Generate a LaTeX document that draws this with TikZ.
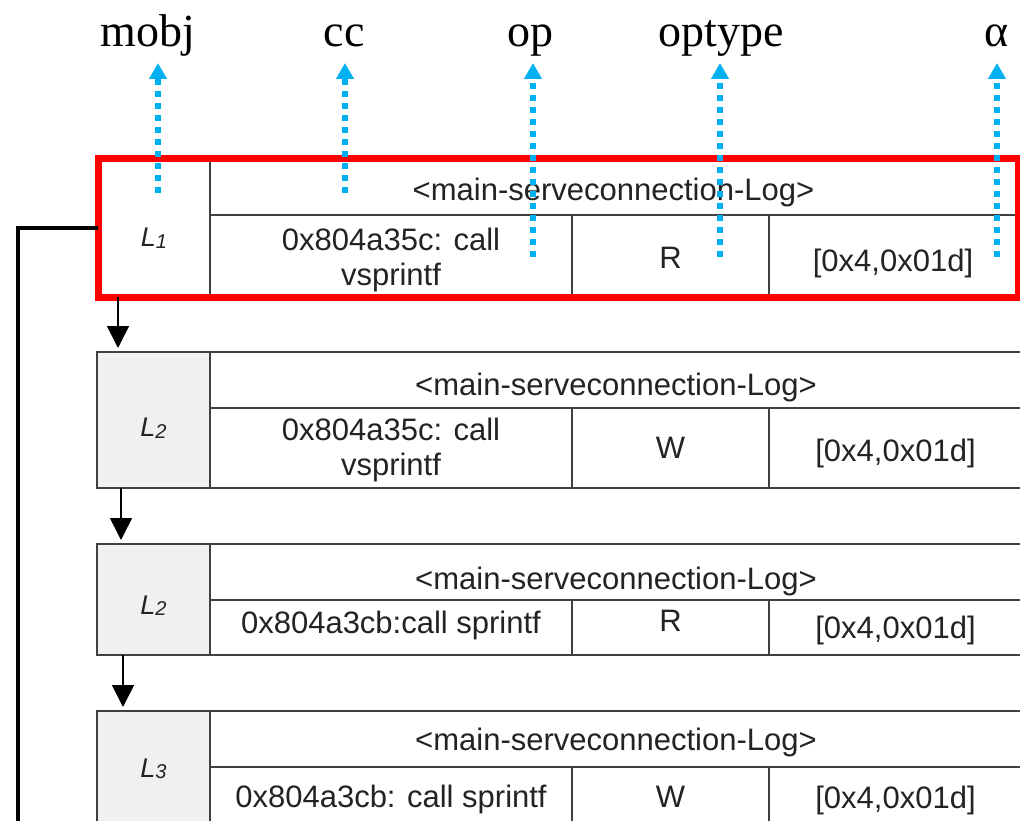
\documentclass[tikz,border=0pt]{standalone}
\usepackage{fontspec}
\setmainfont{Liberation Sans}
\newfontfamily\serifface{Liberation Serif}
\usetikzlibrary{arrows.meta,calc}
\definecolor{skyb}{RGB}{0,176,240}
\definecolor{selred}{RGB}{255,0,0}
\definecolor{gridc}{RGB}{64,64,64}
\definecolor{lgray}{RGB}{240,240,240}
\definecolor{txt}{RGB}{35,35,35}
% \mkcell[opts]{name}{x1}{y1}{x2}{y2}{text}
\newcommand\mkcell[6][]{%
  \node[cell,#1,minimum width={#5-#3},minimum height={#6-#4}] (#2) at ({(#3+#5)/2},{(#4+#6)/2})}
\newcommand\Lab[1]{{\fontsize{27}{27}\selectfont\itshape L\raisebox{-1.5pt}{\fontsize{20}{20}\selectfont #1}}}
\newcommand\sh[2]{\raisebox{-#1pt}[\height][\depth]{#2}}
\newcommand\two[2]{\begin{tabular}{@{}c@{}}#1\\#2\end{tabular}}
\begin{document}
\begin{tikzpicture}[x=1pt,y=-1pt,
  cell/.style={draw=gridc, line width=1.8pt, inner sep=0pt, outer sep=0pt,
    font=\fontsize{31}{35}\selectfont, text=txt, align=center},
  lcell/.style={fill=lgray},
  toplab/.style={font=\serifface\fontsize{46}{46}\selectfont, anchor=base, inner sep=0pt},
  bluearr/.style={draw=skyb, line width=6pt, dash pattern=on 6pt off 6pt,
    -{Triangle[width=17pt,length=16pt]}},
  flowarr/.style={draw=black, line width=1.6pt, -{Triangle[width=22pt,length=22pt]}, shorten >=4pt},
  selbox/.style={draw=selred, line width=7pt, inner sep=0pt, outer sep=0pt},
  trunk/.style={draw=black, line width=3.5pt}]
\useasboundingbox (0,0) rectangle (1020,821);
\clip (0,0) rectangle (1020,821);
\fill[white] (0,0) rectangle (1020,821);

% ---- table 1 ----
\mkcell{T1L}{98}{159}{210}{297}{\sh{10}{\Lab{1}}};
\mkcell{T1H}{210}{159}{1017}{215}{\sh{5}{<main-serveconnection-Log>}};
\mkcell{T1C}{210}{215}{572}{297}{\sh{4.5}{\two{0x804a35c: call}{vsprintf}}};
\mkcell{T1O}{572}{215}{769}{297}{\sh{2}{R}};
\mkcell{T1A}{769}{215}{1017}{297}{\sh{7}{[0x4,0x01d]}};
\node[selbox, minimum width=920, minimum height=138] (sel) at (558,228) {};

% ---- table 2 ----
\mkcell[lcell]{T2L}{97}{352}{210}{488}{\sh{8}{\Lab{2}}};
\mkcell{T2H}{210}{352}{1022}{408}{\sh{7}{<main-serveconnection-Log>}};
\mkcell{T2C}{210}{408}{572}{488}{\sh{2.5}{\two{0x804a35c: call}{vsprintf}}};
\mkcell{T2O}{572}{408}{769}{488}{W};
\mkcell{T2A}{769}{408}{1022}{488}{\sh{5}{[0x4,0x01d]}};

% ---- table 3 ----
\mkcell[lcell]{T3L}{97}{544}{210}{655}{\sh{6}{\Lab{2}}};
\mkcell{T3H}{210}{544}{1022}{600}{\sh{9}{<main-serveconnection-Log>}};
\mkcell{T3C}{210}{600}{572}{655}{\sh{-2.5}{0x804a3cb:call sprintf}};
\mkcell{T3O}{572}{600}{769}{655}{\sh{-6.5}{R}};
\mkcell{T3A}{769}{600}{1022}{655}{\sh{2.5}{[0x4,0x01d]}};

% ---- table 4 ----
\mkcell[lcell]{T4L}{97}{711}{210}{825}{\sh{1}{\Lab{3}}};
\mkcell{T4H}{210}{711}{1022}{767}{\sh{3}{<main-serveconnection-Log>}};
\mkcell{T4C}{210}{767}{572}{825}{\sh{3}{0x804a3cb: call sprintf}};
\mkcell{T4O}{572}{767}{769}{825}{\sh{1}{W}};
\mkcell{T4A}{769}{767}{1022}{825}{\sh{4}{[0x4,0x01d]}};

% ---- flow arrows ----
\draw[flowarr] ($(T1L.south west)+(20,0)$) -- ($(T2L.north west)+(21,0)$);
\draw[flowarr] ($(T2L.south west)+(24,0)$) -- ($(T3L.north west)+(24,0)$);
\draw[flowarr] ($(T3L.south west)+(26,0)$) -- ($(T4L.north west)+(26,0)$);

% ---- trunk line ----
\coordinate (trunkend) at (18,830);
\draw[trunk] (sel.west) -| (trunkend);

% ---- top labels ----
\node[toplab] (mobj) at (148,47) {mobj};
\node[toplab] (cc) at (344,47) {cc};
\node[toplab] (op) at (530,47) {op};
\node[toplab] (optype) at (721,47) {optype};
\node[toplab] (alpha) at (997,47) {α};

\coordinate (tipline) at (0,63);
\coordinate (bm) at (158,193);
\coordinate (bc) at (345,193);
\coordinate (bo) at (533,257);
\coordinate (bt) at (720,257);
\coordinate (ba) at (997,257);
\draw[bluearr] (bm) -- (bm |- tipline);
\draw[bluearr] (bc) -- (bc |- tipline);
\draw[bluearr] (bo) -- (bo |- tipline);
\draw[bluearr] (bt) -- (bt |- tipline);
\draw[bluearr] (ba) -- (ba |- tipline);
\end{tikzpicture}
\end{document}
